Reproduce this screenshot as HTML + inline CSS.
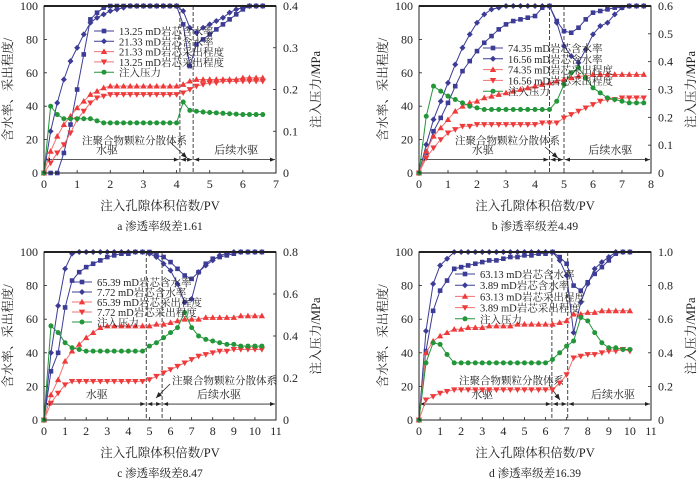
<!DOCTYPE html>
<html><head><meta charset="utf-8"><style>
html,body{margin:0;padding:0;background:#fff;}
svg{display:block;font-family:"Liberation Serif","Noto Serif CJK SC",serif;}
</style></head><body>
<svg id="fig" width="700" height="481" viewBox="0 0 700 481"></svg>
<script>
// ---- Panel a data ----
const aX=[0,0.2,0.4,0.6,0.8,1,1.2,1.4,1.6,1.8,2,2.2,2.4,2.6,2.8,3,3.2,3.4,3.6,3.8,4,4.2,4.4,4.6,4.8,5,5.2,5.4,5.6,5.8,6,6.2,6.4,6.6];
const aWcLow=[0,0,0,12,29,50,71,92,96,99,100,100,100,100,100,100,100,100,100,100,100,89,64,77,80,83,86,89,92,95,98,100,100,100];
const aWcHigh=[0,25,42,56,67,75,83,90,93,95,97,98,99,100,100,100,100,100,100,100,100,97,87,84,87,89,91,93,96,98,99,100,100,100];
const aRecHigh=[0,13,22,29,34,39,43,47,49,51,52,52,52,52,52,52,52,52,52,52,52,53,55,56,56,56,56,56,56,56,57,57,57,57];
const aRecLow=[0,6,12,17,24,32,37,42,45,46,47,47,47,47,47,47,47,47,47,47,47,48,50,52,53,54,54,55,55,55,55,55,55,55];
const aPres=[0,0.16,0.14,0.13,0.13,0.13,0.13,0.13,0.125,0.12,0.12,0.12,0.12,0.12,0.12,0.12,0.12,0.12,0.12,0.12,0.12,0.17,0.15,0.148,0.146,0.145,0.144,0.143,0.142,0.141,0.14,0.14,0.14,0.14];
const aLegend=["13.25 mD岩芯含水率","21.33 mD岩芯含水率","21.33 mD岩芯采出程度","13.25 mD岩芯采出程度","注入压力"];
// ---- Panel b data ----
const bX=[0,.25,.5,.75,1,1.25,1.5,1.75,2,2.25,2.5,2.75,3,3.25,3.5,3.75,4,4.25,4.5,4.75,5,5.25,5.5,5.75,6,6.25,6.5,6.75,7,7.25,7.5,7.75];
const bWcHigh=[0,12,25,33,42,52,61,67,73,78,82,86,89,91,92,93,94,99,100,91,85,84,87,92,96,97,98,99,99,100,100,100];
const bWcLow=[0,17,32,43,54,65,75,83,90,95,98,99,100,100,100,100,100,100,100,90,76,70,66,74,83,88,90,95,99,100,100,100];
const bRecHigh=[0,13,22,27,32,37,40,42,43,45,46,47,48,49,50,51,52,53,54,55,56,57,58,58,59,59,59,59,59,59,59,59];
const bRecLow=[0,9,15,20,24,26,28,28,29,29,29,29,29,29,29,29,29,30,30,30,33,35,37,39,41,43,44,44,45,45,45,45];
const bPres=[0,0.204,0.312,0.294,0.276,0.264,0.252,0.24,0.234,0.228,0.228,0.228,0.228,0.228,0.228,0.228,0.228,0.228,0.228,0.258,0.318,0.36,0.378,0.342,0.306,0.288,0.27,0.264,0.258,0.252,0.252,0.252];
const bLegend=["74.35 mD岩芯含水率","16.56 mD岩芯含水率","74.35 mD岩芯采出程度","16.56 mD岩芯采出程度","注入压力"];
// ---- Panel c data ----
const cX=[0,0.33,0.67,1,1.33,1.67,2,2.33,2.67,3,3.33,3.67,4,4.33,4.67,5,5.33,5.67,6,6.33,6.67,7,7.33,7.67,8,8.33,8.67,9,9.33,9.67,10,10.33];
const cWcHigh=[0,29,40,67,83,88,91,93,95,97,98,99,99,100,100,100,98,97,94,90,86,84,88,93,96,97,98,99,100,100,100,100];
const cWcLow=[0,40,68,90,99,100,100,100,100,100,100,100,100,100,100,99,97,93,89,81,70,72,88,92,95,98,99,100,100,100,100,100];
const cRecHigh=[0,15,24,35,41,45,49,52,55,56,56,56,56,56,56,56,57,57,58,59,60,60,60,61,61,61,61,61,62,62,62,62];
const cRecLow=[0,10,16,21,23,23,23,23,23,23,23,23,23,23,23,24,26,28,30,32,34,36,38,39,40,41,41,42,42,42,42,42];
const cPres=[0,0.448,0.416,0.368,0.344,0.336,0.328,0.328,0.328,0.328,0.328,0.328,0.328,0.328,0.328,0.352,0.368,0.392,0.416,0.44,0.512,0.44,0.4,0.384,0.376,0.368,0.36,0.36,0.352,0.352,0.352,0.352];
const cLegend=["65.39 mD岩芯含水率","7.72 mD岩芯含水率","65.39 mD岩芯采出程度","7.72 mD岩芯采出程度","注入压力"];
// ---- Panel d data ----
const dX=[0,0.33,0.67,1,1.33,1.67,2,2.33,2.67,3,3.33,3.67,4,4.33,4.67,5,5.33,5.67,6,6.33,6.67,7,7.33,7.67,8,8.33,8.67,9,9.33,9.67,10];
const dWcHigh=[0,41,65,77,83,90,91,92,93,94,95,95,96,97,97,98,98,99,99,100,97,93,80,77,82,87,91,95,99,100,100];
const dWcLow=[0,53,81,92,96,100,100,100,100,100,100,100,100,100,100,100,100,100,100,100,95,86,52,70,81,90,94,97,100,100,100];
const dRecHigh=[0,40,47,50,52,54,54,55,55,55,56,56,56,56,57,57,57,57,57,57,58,59,63,63,64,64,65,65,65,65,65];
const dRecLow=[0,12,14,16,17,18,18,18,18,18,18,18,18,18,18,18,18,18,18,18,22,27,37,38,39,39,40,41,41,42,41];
const dPres=[0,0.34,0.46,0.45,0.39,0.34,0.34,0.34,0.34,0.34,0.34,0.34,0.34,0.34,0.34,0.34,0.34,0.34,0.34,0.36,0.40,0.44,0.47,0.61,0.59,0.52,0.46,0.43,0.43,0.42,0.42];
const dLegend=["63.13 mD岩芯含水率","3.89 mD岩芯含水率","63.13 mD岩芯采出程度","3.89 mD岩芯采出程度","注入压力"];

const NS="http://www.w3.org/2000/svg";
const svg=document.getElementById('fig');
const BLUE="#3c3c96",RED="#ee3a3a",REDL="#f07070",GREEN="#23963a";
function el(tag,attrs,parent){const e=document.createElementNS(NS,tag);for(const k in attrs)e.setAttribute(k,attrs[k]);(parent||svg).appendChild(e);return e;}
function txt(s,x,y,size,anchor,parent,rot){const t=el('text',{x:x,y:y,'font-size':size,'text-anchor':anchor||'start',fill:'#222'},parent);if(rot)t.setAttribute('transform','rotate('+rot+' '+x+' '+y+')');t.textContent=s;return t;}
function marker(type,x,y,color,g){
  if(type==='sq')return el('rect',{x:x-2.3,y:y-2.3,width:4.6,height:4.6,fill:color},g);
  if(type==='di')return el('polygon',{points:`${x},${y-3} ${x+3},${y} ${x},${y+3} ${x-3},${y}`,fill:color},g);
  if(type==='up')return el('polygon',{points:`${x},${y-3.2} ${x+3.2},${y+2.4} ${x-3.2},${y+2.4}`,fill:color},g);
  if(type==='dn')return el('polygon',{points:`${x},${y+3.2} ${x+3.2},${y-2.4} ${x-3.2},${y-2.4}`,fill:color},g);
  return el('circle',{cx:x,cy:y,r:2.5,fill:color},g);
}
function panel(p){
  const g=el('g',{});
  
  
  const L=p.L,R=p.R,T=p.T,B=p.B;
  const sx=v=>L+(R-L)*v/p.xmax, sy=v=>B-(B-T)*v/100, sy2=v=>B-(B-T)*v/p.pmax;
  for(let i=0;i<=p.xmax;i++){const x=sx(i);el('line',{x1:x,x2:x,y1:B,y2:B-3,stroke:'#222','stroke-width':0.8},g);const t=txt(String(i),x,B+15,12,'middle',g);}
  for(let v=0;v<=100;v+=20){const y=sy(v);el('line',{x1:L,x2:L+3,y1:y,y2:y,stroke:'#222','stroke-width':0.8},g);const t=txt(String(v),L-6,y+4,12,'end',g);}
  p.pticks.forEach(v=>{const y=sy2(v);el('line',{x1:R,x2:R-3,y1:y,y2:y,stroke:'#222','stroke-width':0.8},g);const t=txt(v===0?'0':v.toFixed(1),R+7,y+4,12,'start',g);});
  p.dash.forEach(d=>{const l=el('line',{x1:sx(d),x2:sx(d),y1:T,y2:B,stroke:'#444','stroke-width':1,'stroke-dasharray':'4,2'},g);});
  const ay=sy(p.ay);
  const segs=[[0,p.dash[0]],[p.dash[0],p.dash[1]],[p.dash[1],p.xmax]];
  segs.forEach(s=>{const x1=sx(s[0])+1,x2=sx(s[1])-1;el('line',{x1:x1,x2:x2,y1:ay,y2:ay,stroke:'#222','stroke-width':0.8},g);
    el('polygon',{points:`${x1},${ay} ${x1+5},${ay-2} ${x1+5},${ay+2}`,fill:'#222'},g);
    el('polygon',{points:`${x2},${ay} ${x2-5},${ay-2} ${x2-5},${ay+2}`,fill:'#222'},g);});
  let t=txt('水驱',sx(p.lbl1),ay-6,11,'middle',g);
  t=txt('后续水驱',sx(p.lbl2),ay-6,11,'middle',g);
  t=txt('注聚合物颗粒分散体系',p.polyX,p.polyY,10.5,'start',g);
  el('line',{x1:p.arr[0],y1:p.arr[1],x2:p.arr[2],y2:p.arr[3],stroke:'#222','stroke-width':0.8},g);
  {const a=Math.atan2(p.arr[3]-p.arr[1],p.arr[2]-p.arr[0]);const x=p.arr[2],y=p.arr[3];
   el('polygon',{points:`${x},${y} ${x-6*Math.cos(a)+2.5*Math.sin(a)},${y-6*Math.sin(a)-2.5*Math.cos(a)} ${x-6*Math.cos(a)-2.5*Math.sin(a)},${y-6*Math.sin(a)+2.5*Math.cos(a)}`,fill:'#222'},g);}
  const series=[
    {name:'wc-high',ys:p.s1,type:'sq',c:BLUE,lc:BLUE,f:sy},
    {name:'wc-low',ys:p.s2,type:'di',c:BLUE,lc:BLUE,f:sy},
    {name:'rec-high',ys:p.s3,type:'up',c:RED,lc:REDL,f:sy},
    {name:'rec-low',ys:p.s4,type:'dn',c:RED,lc:REDL,f:sy},
    {name:'pressure',ys:p.s5,type:'ci',c:GREEN,lc:GREEN,f:sy2}];
  series.forEach(s=>{
    const sg=el('g',{},g);
    
    
    const pts=s.ys.map((v,i)=>sx(p.xs[i])+','+s.f(v)).join(' ');
    el('polyline',{points:pts,fill:'none',stroke:s.lc,'stroke-width':1},sg);
    s.ys.forEach((v,i)=>{const m=marker(s.type,sx(p.xs[i]),s.f(v),s.c,sg);});
  });
  const lg=el('g',{},g);
  
  
  series.forEach((s,i)=>{const y=p.leg[1]+i*p.leg[2];
    el('line',{x1:p.leg[0],x2:p.leg[0]+20,y1:y,y2:y,stroke:s.lc,'stroke-width':1},lg);
    marker(s.type,p.leg[0]+10,y,s.c,lg);
    const t=txt(p.legend[i],p.leg[0]+25,y+4,10.5,'start',lg);});
  el('rect',{x:L,y:T,width:R-L,height:B-T,fill:'none',stroke:'#222','stroke-width':1},g);
  el('line',{x1:L,x2:R,y1:T,y2:T,stroke:'#222','stroke-width':2},g);
  t=txt('含水率、采出程度/',L-32,(T+B)/2,12.5,'middle',g,-90);
  t=txt('注入压力/MPa',R+44,(T+B)/2,12.5,'middle',g,-90);
  t=txt('注入孔隙体积倍数/PV',(L+R)/2,B+37,12.5,'middle',g);
  t=txt(p.caption,(L+R)/2,B+57,11.5,'middle',g);
}
panel({id:'a',L:44,R:276,T:6,B:173,xmax:7,pmax:0.4,pticks:[0,0.1,0.2,0.3,0.4],xs:aX,s1:aWcLow,s2:aWcHigh,s3:aRecHigh,s4:aRecLow,s5:aPres,legend:aLegend,
  leg:[94,31,10.3],dash:[4.1,4.5],ay:8,lbl1:1.9,lbl2:5.8,polyX:82,polyY:144,arr:[170,142,187,158],caption:'a  渗透率级差1.61'});
panel({id:'b',L:419,R:651,T:6,B:173,xmax:8,pmax:0.6,pticks:[0,0.1,0.2,0.3,0.4,0.5,0.6],xs:bX,s1:bWcHigh,s2:bWcLow,s3:bRecHigh,s4:bRecLow,s5:bPres,legend:bLegend,
  leg:[483,48,10.8],dash:[4.5,5.0],ay:8,lbl1:2.2,lbl2:6.6,polyX:455,polyY:144,arr:[545,147,558,158],caption:'b  渗透率级差4.49'});
panel({id:'c',L:44,R:276,T:252,B:420,xmax:11,pmax:0.8,pticks:[0,0.2,0.4,0.6,0.8],xs:cX,s1:cWcHigh,s2:cWcLow,s3:cRecHigh,s4:cRecLow,s5:cPres,legend:cLegend,
  leg:[72,282,10],dash:[4.85,5.6],ay:9.5,lbl1:2.5,lbl2:8.3,polyX:172,polyY:384,arr:[170,384,156,398],caption:'c  渗透率级差8.47'});
panel({id:'d',L:419,R:651,T:252,B:420,xmax:11,pmax:1.0,pticks:[0,0.2,0.4,0.6,0.8,1.0],xs:dX,s1:dWcHigh,s2:dWcLow,s3:dRecHigh,s4:dRecLow,s5:dPres,legend:dLegend,
  leg:[455,274,11.2],dash:[6.3,7.05],ay:9.5,lbl1:3,lbl2:9.2,polyX:459,polyY:384,arr:[549,385,560,400],caption:'d  渗透率级差16.39'});
</script>
</body></html>
